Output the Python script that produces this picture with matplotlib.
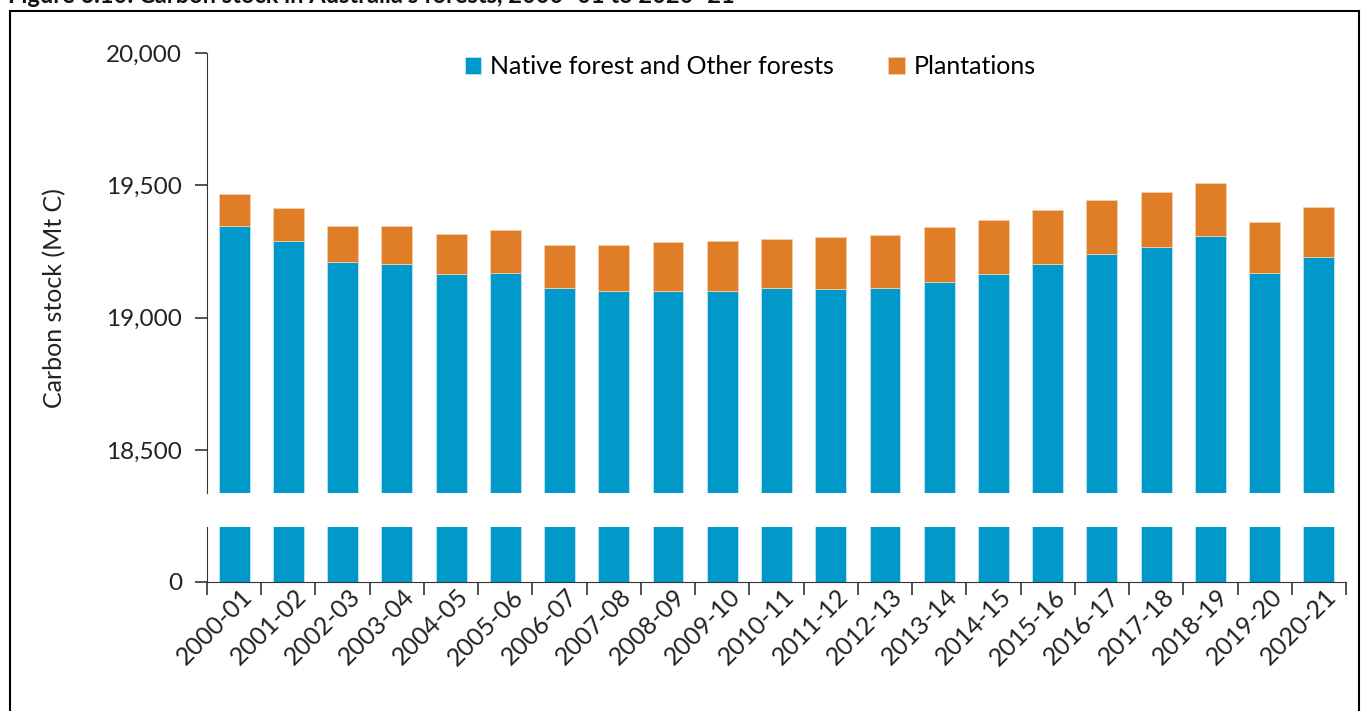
import numpy as np
import matplotlib.pyplot as plt
from matplotlib.patches import Rectangle
from matplotlib.transforms import ScaledTranslation

plt.rcParams['font.family'] = ['Lato', 'DejaVu Sans']

years = ['2000-01', '2001-02', '2002-03', '2003-04', '2004-05', '2005-06', '2006-07',
         '2007-08', '2008-09', '2009-10', '2010-11', '2011-12', '2012-13', '2013-14',
         '2014-15', '2015-16', '2016-17', '2017-18', '2018-19', '2019-20', '2020-21']
# Mt C
native = [19346, 19289, 19211, 19201, 19163, 19167, 19112, 19101, 19101, 19101, 19112,
          19107, 19112, 19134, 19163, 19201, 19240, 19268, 19307, 19168, 19230]
plantations = [120, 124, 134, 144, 154, 164, 161, 172, 183, 188, 185,
               196, 199, 207, 206, 205, 205, 205, 200, 192, 187]

blue = '#0099c9'
orange = '#e07e28'
x = np.arange(len(years))

fig = plt.figure(figsize=(13.63, 7.11), dpi=100)
W, H = 1363, 711
left, right = 207 / W, 1346 / W
ax_top = fig.add_axes([left, 1 - 493 / H, right - left, (493 - 53) / H])
ax_bot = fig.add_axes([left, 1 - 582 / H, right - left, (582 - 527) / H])

for ax in (ax_top, ax_bot):
    ax.bar(x, native, width=0.57, color=blue, edgecolor='#bfe3f0', linewidth=0.6,
           label='Native forest and Other forests')
    ax.bar(x, plantations, bottom=native, width=0.57, color=orange, edgecolor='#f3cfae',
           linewidth=0.6, label='Plantations')
    ax.set_xlim(-0.5, len(years) - 0.5)
    ax.spines['top'].set_visible(False)
    ax.spines['right'].set_visible(False)
    ax.spines['left'].set_color('#333333')
    ax.tick_params(axis='y', direction='out', length=9, width=1.2, pad=9,
                   labelsize=17.5, colors='#333333', labelcolor='#222222')

ax_top.set_ylim(18337, 20000)
ax_top.set_yticks([18500, 19000, 19500, 20000])
ax_top.set_yticklabels(['18,500', '19,000', '19,500', '20,000'])
ax_top.spines['bottom'].set_visible(False)
ax_top.set_xticks([])

ax_bot.set_ylim(0, 208)
ax_bot.set_yticks([0])
ax_bot.set_yticklabels(['0'])
ax_bot.spines['bottom'].set_color('#333333')
ax_bot.set_xticks(np.arange(len(years) + 1) - 0.5)
ax_bot.set_xticklabels([])
ax_bot.tick_params(axis='x', which='major', direction='out', length=9, width=1.2,
                   colors='#333333')
ax_bot.set_xticks(x, minor=True)
ax_bot.set_xticklabels(years, minor=True, rotation=45, ha='right', va='center',
                       rotation_mode='anchor', fontsize=18, color='#222222')
ax_bot.tick_params(axis='x', which='minor', length=0, pad=8)
shift = ScaledTranslation(14 / 100, 0, fig.dpi_scale_trans)
for lab in ax_bot.get_xticklabels(minor=True):
    lab.set_transform(lab.get_transform() + shift)

fig.text(55 / W, 1 - 298 / H, 'Carbon stock (Mt C)', rotation=90, ha='center',
         va='center', fontsize=18, color='#222222')

h, l = ax_top.get_legend_handles_labels()
fig.legend(h, l, loc='center', bbox_to_anchor=(750 / W, 1 - 67 / H), ncol=2,
           frameon=False, fontsize=18, handlelength=0.65, handleheight=0.65,
           handletextpad=0.35, columnspacing=2.2)

# clipped caption at the very top and frame around the chart
fig.text(8 / W, 1 - 3 / H, "Figure 6.10: Carbon stock in Australia's forests, 2000–01 to 2020–21",
         ha='left', va='baseline', fontsize=17, fontweight='bold', color='#111111')
fig.patches.append(Rectangle((10 / W, -0.02), 1349 / W, 1 - 11 / H + 0.02,
                             transform=fig.transFigure, fill=False,
                             edgecolor='black', linewidth=1.5))

fig.savefig('out.png', dpi=100)
